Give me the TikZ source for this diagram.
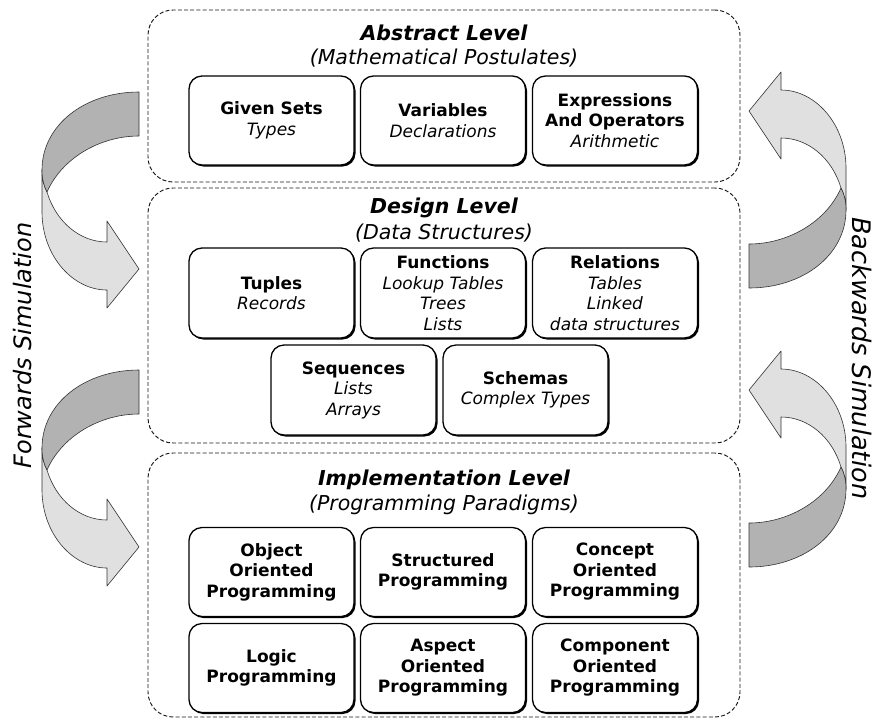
\documentclass[tikz,border=0pt]{standalone}
\usepackage{fontspec}
\setmainfont{DejaVu Sans}
\usetikzlibrary{shadows}

\tikzset{
  level/.style={draw=black!90, dash pattern=on 4pt off 2.2pt, line width=0.95pt,
    rounded corners=25pt, inner sep=0pt},
  item/.style={draw=black, fill=white, line width=1.3pt, rounded corners=13pt,
    minimum width=165pt, minimum height=89pt, inner sep=0pt, align=center,
    font=\fontsize{17}{20.5}\selectfont,
    drop shadow={shadow xshift=1.5pt, shadow yshift=-1.5pt, fill=black, opacity=1}},
  tall/.style={minimum height=90pt},
  leveltitle/.style={font=\fontsize{20.5}{24}\selectfont\bfseries\itshape, inner sep=0pt},
  levelsub/.style={font=\fontsize{20.5}{24}\selectfont\itshape, inner sep=0pt},
  sidelabel/.style={font=\itshape, inner sep=0pt},
  back/.style={fill=black!30, draw=black!80, line width=0.6pt, line join=round},
  front/.style={fill=black!12, draw=black!80, line width=0.6pt, line join=round},
}

% twisted ribbon arrow, drawn in pixel-like units
\newcommand{\ribbonarrow}{%
  \path[front] (42,170) -- (42,212) .. controls (42,255) and (72,290) .. (107,290)
    -- (107,308) -- (139,269) -- (107,221) -- (107,242)
    .. controls (80,242) and (56,222) .. (47,192)
    .. controls (44,186) and (42,180) .. (42,170) -- cycle;
  \path[back] (139,92) .. controls (85,92) and (42,125) .. (42,170)
    .. controls (42,180) and (44,186) .. (47,192)
    .. controls (62,158) and (100,136) .. (139,136) -- cycle;
}

\begin{document}
\begin{tikzpicture}[x=1pt, y=-1pt]
\useasboundingbox (0,0) rectangle (874,721);

% level containers
\node[level, minimum width=592pt, minimum height=172pt] (abstract) at (444,96) {};
\node[level, minimum width=592pt, minimum height=255pt] (design) at (444,315.5) {};
\node[level, minimum width=592pt, minimum height=264pt] (impl) at (444,585) {};

% abstract level
\node[leveltitle] (abstractT) at (444,33) {Abstract Level};
\node[levelsub] (abstractS) at (444,58) {(Mathematical Postulates)};
\node[item] (sets) at (271.5,120.5) {\textbf{Given Sets}\\\textit{Types}};
\node[item] (vars) at (443,120.5) {\textbf{Variables}\\\textit{Declarations}};
\node[item] (expr) at (615,120.5) {\textbf{Expressions}\\\textbf{And Operators}\\\textit{Arithmetic}};

% design level
\node[leveltitle] (designT) at (444,208) {Design Level};
\node[levelsub] (designS) at (444,233) {(Data Structures)};
\node[item, tall] (tuples) at (271.5,293) {\textbf{Tuples}\\\textit{Records}};
\node[item, tall] (funcs) at (443,293) {\textbf{Functions}\\\textit{Lookup Tables}\\\textit{Trees}\\\textit{Lists}};
\node[item, tall] (rels) at (615,293) {\textbf{Relations}\\\textit{Tables}\\\textit{Linked}\\\textit{data structures}};
\node[item, tall] (seqs) at (353.5,390) {\textbf{Sequences}\\\textit{Lists}\\\textit{Arrays}};
\node[item, tall] (schemas) at (525.5,390) {\textbf{Schemas}\\\textit{Complex Types}};

% implementation level
\node[leveltitle] (implT) at (444,480) {Implementation Level};
\node[levelsub] (implS) at (444,505) {(Programming Paradigms)};
\node[item] (oop) at (271.5,572) {\textbf{Object}\\\textbf{Oriented}\\\textbf{Programming}};
\node[item] (sp) at (443,572) {\textbf{Structured}\\\textbf{Programming}};
\node[item] (cop) at (615,572) {\textbf{Concept}\\\textbf{Oriented}\\\textbf{Programming}};
\node[item] (lp) at (271.5,668) {\textbf{Logic}\\\textbf{Programming}};
\node[item] (aop) at (443,668) {\textbf{Aspect}\\\textbf{Oriented}\\\textbf{Programming}};
\node[item] (comp) at (615,668) {\textbf{Component}\\\textbf{Oriented}\\\textbf{Programming}};

% simulation arrows
\begin{scope}\ribbonarrow\end{scope}
\begin{scope}[shift={(0,278)}]\ribbonarrow\end{scope}
\begin{scope}[shift={(888,380)}, xscale=-1, yscale=-1]\ribbonarrow\end{scope}
\begin{scope}[shift={(888,659)}, xscale=-1, yscale=-1]\ribbonarrow\end{scope}

% side labels
\node[sidelabel, font=\fontsize{24}{28}\selectfont\itshape, rotate=90] (fwd) at (23,345.5) {Forwards Simulation};
\node[sidelabel, font=\fontsize{25.5}{28}\selectfont\itshape, rotate=-90] (bwd) at (862,358.5) {Backwards Simulation};
\end{tikzpicture}
\end{document}
